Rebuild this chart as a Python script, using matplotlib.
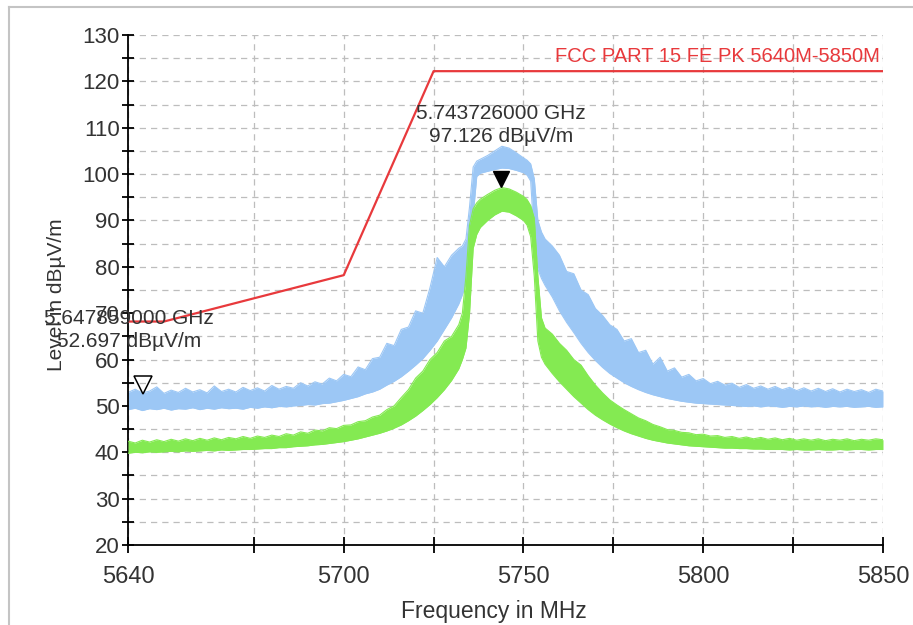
import matplotlib
matplotlib.use("Agg")
import matplotlib.pyplot as plt
from matplotlib.lines import Line2D
from matplotlib.transforms import offset_copy

plt.rcParams['font.family'] = ['Liberation Sans', 'DejaVu Sans']

# sample frequencies (MHz) of the envelope
freq = [5640, 5642, 5644, 5646, 5648, 5650, 5652, 5654, 5656, 5658,
        5660, 5662, 5664, 5666, 5668, 5670, 5672, 5674, 5676, 5678,
        5680, 5682, 5684, 5686, 5688, 5690, 5692, 5694, 5696, 5698,
        5700, 5702, 5704, 5706, 5708, 5710, 5712, 5714, 5716, 5718,
        5720, 5722, 5724, 5726, 5728, 5730, 5732,
        5733, 5734, 5735, 5736, 5737, 5738,
        5740, 5742, 5744, 5746, 5748, 5750,
        5751, 5752, 5753, 5754, 5755, 5756,
        5758, 5760, 5762, 5764, 5766, 5768, 5770, 5772, 5774, 5776,
        5778, 5780, 5782, 5784, 5786, 5788, 5790, 5792, 5794, 5796,
        5798, 5800, 5802, 5804, 5806, 5808, 5810, 5812, 5814, 5816,
        5818, 5820, 5822, 5824, 5826, 5828, 5830, 5832, 5834, 5836,
        5838, 5840, 5842, 5844, 5846, 5848, 5850]

# peak trace (blue): top and bottom of the noise band, dBuV/m
blue_hi = [52.9, 53.6, 52.8, 53.2, 54.1, 52.7, 53.4, 52.9, 53.8, 53.0,
           53.5, 52.8, 54.3, 53.1, 53.6, 53.0, 54.0, 53.3, 53.9, 53.2,
           54.4, 53.6, 54.2, 53.8, 55.0, 54.3, 55.2, 54.7, 56.0, 55.4,
           56.8, 56.3, 58.4, 57.8, 60.2, 60.5, 63.5, 63.0, 66.5, 67.0,
           70.5, 70.0, 75.5, 82.0, 80.0, 82.5, 84.0,
           84.5, 86.0, 93.0, 101.5, 102.8, 103.2,
           104.0, 105.0, 106.0, 105.6, 104.6, 103.5,
           103.0, 102.2, 99.0, 90.0, 87.5, 86.0,
           84.5, 82.5, 79.0, 78.5, 75.0, 74.0, 71.0, 69.5, 67.5, 66.5,
           64.0, 64.5, 61.5, 62.0, 59.0, 60.5, 57.5, 58.2, 56.2, 56.8,
           55.4, 55.9, 54.8, 55.3, 54.5, 54.9, 54.0, 54.6, 53.8, 54.3,
           53.6, 54.2, 53.5, 54.0, 53.3, 53.9, 53.2, 53.8, 53.1, 53.7,
           53.0, 53.6, 53.1, 53.5, 52.9, 53.6, 53.2]
blue_lo = [49.2, 49.5, 49.0, 49.4, 49.2, 49.5, 49.1, 49.4, 49.3, 49.6,
           49.2, 49.5, 49.3, 49.6, 49.4, 49.5, 49.3, 49.7, 49.5, 49.8,
           49.6, 49.9, 49.8, 50.0, 50.1, 50.3, 50.2, 50.5, 50.6, 50.9,
           51.2, 51.6, 52.0, 52.6, 53.0, 53.6, 54.5, 55.3, 56.3, 57.5,
           58.8, 60.2, 62.0, 64.0, 66.5, 69.0, 72.0,
           74.0, 76.5, 83.0, 91.0, 99.5, 100.2,
           100.6, 101.0, 101.3, 101.2, 100.8, 100.3,
           99.8, 98.5, 86.0, 79.5, 77.5, 76.0,
           73.5, 70.5, 68.0, 65.8, 63.5, 61.5, 59.8, 58.3, 57.0, 56.0,
           55.0, 54.2, 53.5, 52.9, 52.4, 52.0, 51.6, 51.3, 51.0, 50.8,
           50.6, 50.5, 50.4, 50.3, 50.2, 50.1, 50.0, 49.9, 50.0, 49.8,
           50.0, 49.9, 49.7, 49.9, 49.8, 50.0, 49.8, 49.9, 49.7, 49.9,
           49.8, 49.9, 49.7, 49.8, 49.9, 49.7, 49.8]

# average trace (green)
green_hi = [42.4, 42.0, 42.6, 42.2, 42.7, 42.3, 42.8, 42.4, 42.9, 42.5,
            43.0, 42.6, 43.1, 42.7, 43.2, 42.9, 43.4, 43.0, 43.5, 43.2,
            43.7, 43.4, 44.0, 43.7, 44.4, 44.1, 44.8, 44.6, 45.3, 45.1,
            45.8, 45.9, 46.6, 46.8, 47.6, 48.0, 49.2, 50.0, 51.8, 53.5,
            56.0, 57.5, 60.0, 61.5, 64.0, 65.0, 67.5,
            70.0, 78.0, 89.0, 92.5, 93.8, 94.6,
            95.6, 96.5, 97.1, 96.8, 96.1, 95.2,
            94.5, 93.2, 90.5, 78.0, 69.0, 66.8,
            65.5, 63.5, 62.0, 60.0, 58.8, 56.5, 54.5, 52.8, 51.3, 50.2,
            49.2, 48.3, 47.4, 46.8, 46.0, 45.5, 44.9, 44.7, 44.3, 44.2,
            43.8, 43.9, 43.5, 43.6, 43.2, 43.4, 43.0, 43.3, 42.9, 43.2,
            42.8, 43.1, 42.7, 43.0, 42.6, 42.9, 42.6, 42.9, 42.5, 42.8,
            42.6, 42.9, 42.5, 42.8, 42.6, 42.9, 42.7]
green_lo = [39.8, 40.0, 39.9, 40.1, 40.0, 40.1, 40.2, 40.1, 40.3, 40.2,
            40.3, 40.4, 40.3, 40.5, 40.4, 40.5, 40.6, 40.6, 40.7, 40.8,
            40.8, 41.0, 41.0, 41.2, 41.3, 41.4, 41.6, 41.7, 41.9, 42.1,
            42.3, 42.6, 42.9, 43.3, 43.7, 44.1, 44.6, 45.2, 45.9, 46.8,
            47.8, 49.0, 50.3, 51.8, 53.5, 55.5, 58.0,
            60.0, 62.5, 70.0, 84.0, 87.0, 88.5,
            90.0, 91.2, 92.0, 91.8, 91.0, 90.0,
            89.0, 86.5, 78.0, 64.0, 60.5, 59.0,
            57.0, 55.2, 53.6, 52.0, 50.6, 49.2, 48.0, 47.0, 46.1, 45.3,
            44.6, 44.0, 43.5, 43.0, 42.6, 42.3, 42.0, 41.8, 41.6, 41.4,
            41.3, 41.2, 41.1, 41.0, 40.9, 40.9, 40.8, 40.8, 40.7, 40.7,
            40.6, 40.6, 40.6, 40.5, 40.6, 40.5, 40.5, 40.6, 40.5, 40.5,
            40.6, 40.5, 40.6, 40.6, 40.5, 40.6, 40.6]

# limit line
limit_freq = [5640, 5650, 5700, 5725, 5850]
limit_level = [68.2, 68.2, 78.2, 122.2, 122.2]
limit_name = "FCC PART 15 FE PK 5640M-5850M"

# markers
peak_f, peak_lvl = 5743.726, 97.126
peak_text = "5.743726000 GHz\n97.126 dBµV/m"
m2_f, m2_lvl = 5644.2, 52.697
m2_text = "5.647859000 GHz\n52.697 dBµV/m"

x_major = [5640, 5700, 5750, 5800, 5850]
x_minor = [5675, 5725, 5775, 5825]

fig = plt.figure(figsize=(9.13, 6.25), dpi=100)
ax = fig.add_axes([128/913, 1-545/625, 755/913, 510/625])

blue = '#9cc7f5'
green = '#84ea52'
ax.fill_between(freq, blue_lo, blue_hi, color=blue, lw=0, zorder=2)
ax.plot(freq, blue_hi, color=blue, lw=0.8, zorder=2)
ax.plot(freq, blue_lo, color=blue, lw=0.8, zorder=2)
ax.fill_between(freq, green_lo, green_hi, color=green, lw=0, zorder=3)
ax.plot(freq, green_hi, color=green, lw=0.8, zorder=3)
ax.plot(freq, green_lo, color=green, lw=0.8, zorder=3)

ax.plot(limit_freq, limit_level, color='#e8393c', lw=1.6, zorder=4)
ax.text(5849.2, 125.4, limit_name, color='#e8393c', fontsize=14.5,
        ha='right', va='center', zorder=1)

# markers, tip on the point
tr = offset_copy(ax.transData, fig=fig, x=0, y=6, units='points')
ax.plot([peak_f], [peak_lvl], marker='v', ms=12, color='black',
        ls='none', transform=tr, zorder=6)
ax.plot([m2_f], [m2_lvl], marker='v', ms=12.5, mfc='none', mec='black',
        mew=1.1, ls='none', transform=tr, zorder=6, clip_on=False)
ax.text(peak_f, 110.6, peak_text, ha='center', va='center', fontsize=15,
        color='#333333', linespacing=1.25, zorder=7)
ax.text(5640.3, 66.4, m2_text, ha='center', va='center', fontsize=15,
        color='#333333', linespacing=1.25, zorder=7)

ax.set_xlim(5640, 5850)
ax.set_ylim(20, 130)
ax.set_xticks(x_major)
ax.set_xticks(x_minor, minor=True)
ax.set_yticks(range(20, 131, 10))
ax.set_yticks(range(25, 130, 10), minor=True)
ax.grid(True, which='both', color='#bdbdbd', ls=(0, (5, 4)), lw=0.9)
ax.set_axisbelow(True)

for s in ['top', 'right']:
    ax.spines[s].set_visible(False)
for s in ['left', 'bottom']:
    ax.spines[s].set_linewidth(1.3)

ax.tick_params(axis='y', which='both', direction='inout', length=8,
               width=1.3, labelsize=16, labelcolor='#333333', pad=2)
ax.tick_params(axis='x', which='both', direction='inout', length=12,
               width=1.3, labelsize=17, labelcolor='#333333', pad=9)

ax.set_xlabel("Frequency in MHz", fontsize=16.5, color='#333333')
ax.xaxis.set_label_coords((494-128)/755, (545-600)/510)
ax.set_ylabel("Level in dBµV/m", fontsize=15, color='#333333')
ax.yaxis.set_label_coords((66-128)/755, (545-295)/510)

# outer panel border
fig.add_artist(Line2D([9/913, 9/913], [0, 1-7/625], color='#c4c4c4',
                      lw=1.5, transform=fig.transFigure))
fig.add_artist(Line2D([9/913, 1], [1-7/625, 1-7/625], color='#c4c4c4',
                      lw=1.5, transform=fig.transFigure))

fig.savefig('out.png', dpi=100)
